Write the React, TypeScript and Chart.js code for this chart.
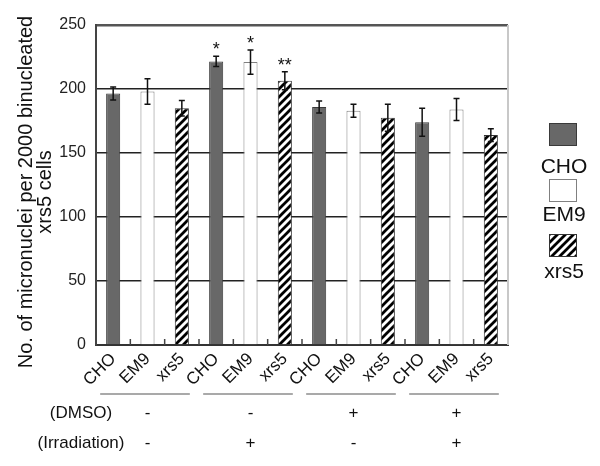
import React, { useEffect, useRef } from "react";
import { Chart, registerables } from "chart.js";

Chart.register(...registerables);

const categories = ["CHO", "EM9", "xrs5", "CHO", "EM9", "xrs5", "CHO", "EM9", "xrs5", "CHO", "EM9", "xrs5"];
const cellLines = ["CHO", "EM9", "xrs5"];
const values = [196.5, 198, 185, 221.5, 221, 206.5, 186, 183, 177.5, 174, 184, 164];
const errors = [5, 10, 6, 4, 9.4, 7, 4.7, 5, 10.5, 11, 8.6, 5];
const stars = ["", "", "", "*", "*", "**", "", "", "", "", "", ""];
const dmso = ["-", "-", "+", "+"];
const irradiation = ["-", "+", "-", "+"];
const yTicks = [0, 50, 100, 150, 200, 250];
const yTitle = ["No. of micronuclei per 2000 binucleated", "xrs5 cells"];

const FONT = "'Liberation Sans', Arial, sans-serif";

function makeHatch(): CanvasPattern | string {
  const p = document.createElement("canvas");
  p.width = 8;
  p.height = 8;
  const c = p.getContext("2d");
  if (!c) return "#888";
  c.fillStyle = "#fff";
  c.fillRect(0, 0, 8, 8);
  c.strokeStyle = "#000";
  c.lineWidth = 2.8;
  c.beginPath();
  c.moveTo(-2, 10);
  c.lineTo(10, -2);
  c.moveTo(-2, 2);
  c.lineTo(2, -2);
  c.moveTo(6, 10);
  c.lineTo(10, 6);
  c.stroke();
  const ctx = document.createElement("canvas").getContext("2d");
  return ctx ? (ctx.createPattern(p, "repeat") as CanvasPattern) : "#888";
}

export default function App() {
  const ref = useRef<HTMLCanvasElement | null>(null);

  useEffect(() => {
    document.body.style.margin = "0";
    const canvas = ref.current;
    if (!canvas) return;
    const hatch = makeHatch();
    const fills: any[] = [ "#686868", "#ffffff", hatch ];
    const borders = ["#3a3a3a", "#808080", "#333333"];

    const overlay = {
      id: "overlay",
      afterDatasetsDraw(chart: any) {
        const ctx = chart.ctx as CanvasRenderingContext2D;
        const xs = chart.scales.x;
        const ys = chart.scales.y;
        const area = chart.chartArea;
        ctx.save();
        // right border
        ctx.strokeStyle = "#c8c8c8";
        ctx.lineWidth = 2;
        ctx.beginPath();
        ctx.moveTo(area.right, area.top);
        ctx.lineTo(area.right, area.bottom);
        ctx.stroke();
        // category boundary ticks
        ctx.strokeStyle = "#444";
        ctx.lineWidth = 1.5;
        for (let i = 1; i < categories.length; i++) {
          const x = (xs.getPixelForValue(i - 1) + xs.getPixelForValue(i)) / 2;
          ctx.beginPath();
          ctx.moveTo(x, area.bottom);
          ctx.lineTo(x, area.bottom - 6);
          ctx.stroke();
        }
        // error bars
        ctx.strokeStyle = "#111";
        ctx.lineWidth = 1.5;
        values.forEach((v, i) => {
          const x = xs.getPixelForValue(i);
          const yt = ys.getPixelForValue(v + errors[i]);
          const yb = ys.getPixelForValue(v - errors[i]);
          ctx.beginPath();
          ctx.moveTo(x, yt);
          ctx.lineTo(x, yb);
          ctx.moveTo(x - 3, yt);
          ctx.lineTo(x + 3, yt);
          ctx.moveTo(x - 3, yb);
          ctx.lineTo(x + 3, yb);
          ctx.stroke();
          if (stars[i]) {
            ctx.fillStyle = "#111";
            ctx.font = `18px ${FONT}`;
            ctx.textAlign = "center";
            ctx.textBaseline = "alphabetic";
            ctx.fillText(stars[i], x, yt - 1);
          }
        });
        // group lines and condition signs
        ctx.fillStyle = "#111";
        ctx.strokeStyle = "#555";
        ctx.lineWidth = 1.2;
        ctx.font = `17px ${FONT}`;
        ctx.textAlign = "center";
        ctx.textBaseline = "middle";
        for (let g = 0; g < dmso.length; g++) {
          const x0 = xs.getPixelForValue(g * 3);
          const x2 = xs.getPixelForValue(g * 3 + 2);
          const xc = (x0 + x2) / 2;
          ctx.beginPath();
          ctx.moveTo(x0 - 13, 394);
          ctx.lineTo(x2 + 8, 394);
          ctx.stroke();
          ctx.fillText(dmso[g], xc, 413);
          ctx.fillText(irradiation[g], xc, 443);
        }
        ctx.fillText("(DMSO)", 81, 413);
        ctx.fillText("(Irradiation)", 81, 443);
        // y title
        ctx.save();
        ctx.font = `20px ${FONT}`;
        ctx.translate(26, 192);
        ctx.rotate(-Math.PI / 2);
        ctx.fillText(yTitle[0], 0, 0);
        ctx.fillText(yTitle[1], 0, 19);
        ctx.restore();
        // legend
        const swY = [123, 179, 234];
        const txY = [167, 215, 272];
        ctx.font = `21px ${FONT}`;
        cellLines.forEach((name, k) => {
          ctx.fillStyle = fills[k];
          ctx.fillRect(549, swY[k], 28, 23);
          ctx.strokeStyle = borders[k];
          ctx.lineWidth = 1;
          ctx.strokeRect(549.5, swY[k] + 0.5, 27, 22);
          ctx.fillStyle = "#111";
          ctx.fillText(name, 564, txY[k]);
        });
        ctx.restore();
      },
    };

    const chart = new Chart(canvas, {
      type: "bar",
      data: {
        labels: categories,
        datasets: [
          {
            data: values,
            backgroundColor: categories.map((c) => fills[cellLines.indexOf(c)]),
            borderColor: categories.map((c) => borders[cellLines.indexOf(c)]),
            borderWidth: 1,
            barPercentage: 0.41,
            categoryPercentage: 1,
          },
        ],
      },
      options: {
        animation: false,
        responsive: false,
        maintainAspectRatio: false,
        layout: { padding: { left: 0, right: 92, top: 25, bottom: 0 } },
        plugins: { legend: { display: false }, tooltip: { enabled: false } },
        scales: {
          x: {
            grid: { display: false, drawTicks: false },
            border: { color: "#333", width: 2 },
            ticks: {
              color: "#111",
              font: { family: FONT, size: 17 },
              maxRotation: 45,
              minRotation: 45,
              padding: 4,
              autoSkip: false,
            },
            afterFit: (s: any) => {
              s.height = 121;
            },
          },
          y: {
            min: 0,
            max: 250,
            afterBuildTicks: (s: any) => {
              s.ticks = yTicks.map((v) => ({ value: v }));
            },
            grid: {
              drawTicks: false,
              color: (c: any) => (c.tick && c.tick.value === 250 ? "#555" : "#222"),
              lineWidth: (c: any) => (c.tick && c.tick.value === 250 ? 2.5 : 1.5),
            },
            border: { color: "#444", width: 2 },
            ticks: { color: "#222", font: { family: FONT, size: 16 }, padding: 10 },
            afterFit: (s: any) => {
              s.width = 96;
            },
          },
        },
      },
      plugins: [overlay],
    });
    return () => chart.destroy();
  }, []);

  return <canvas ref={ref} width={600} height={466} style={{ display: "block" }} />;
}
